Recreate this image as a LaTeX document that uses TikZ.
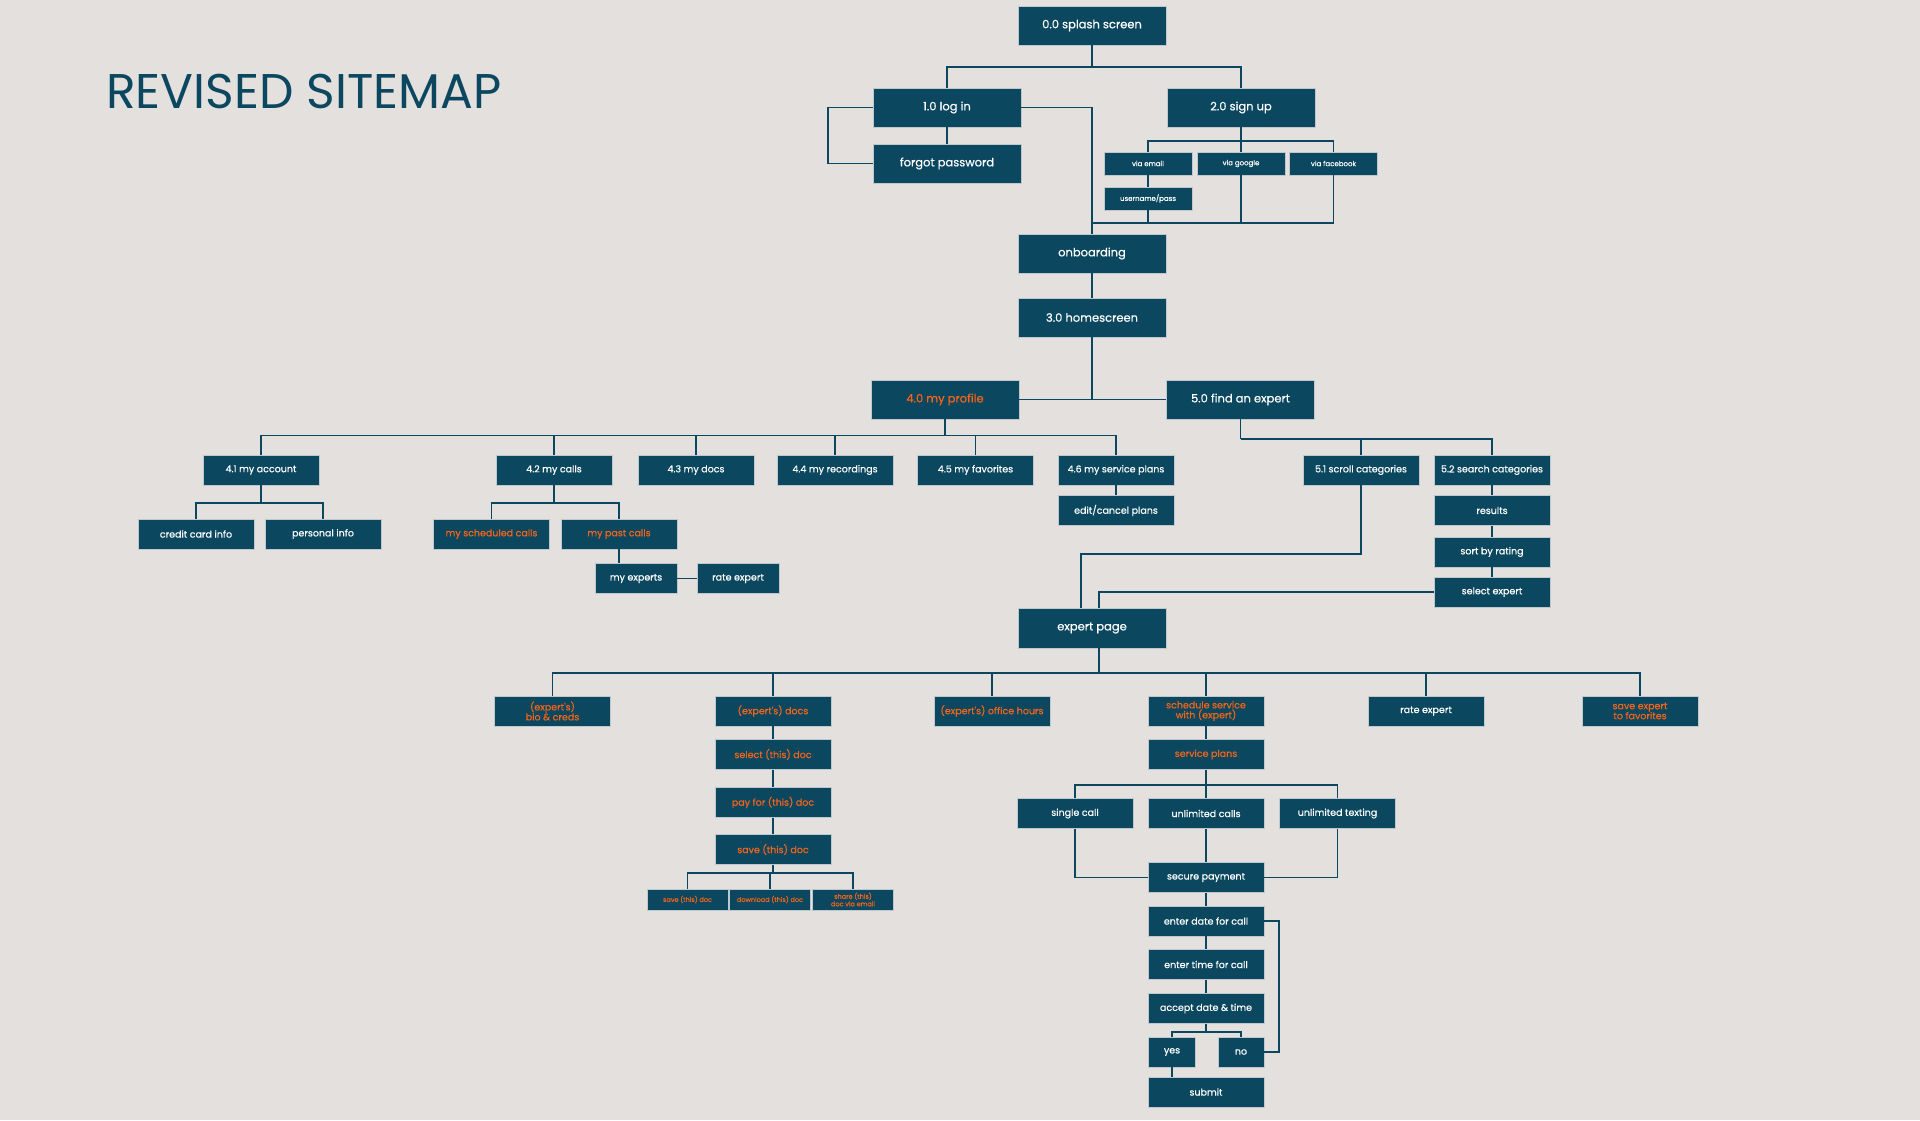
\documentclass[tikz,border=0pt]{standalone}
\usepackage{fontspec}
\setmainfont{Poppins}
\newfontface\boxfont{Poppins}[FakeBold=0.45]
\definecolor{boxteal}{RGB}{11,72,96}
\definecolor{paper}{RGB}{228,224,221}
\definecolor{accent}{RGB}{245,100,25}
\definecolor{rim}{RGB}{190,200,205}

\begin{document}
\begin{tikzpicture}[x=1pt,y=1pt]
\tikzstyle{every node}+=[inner sep=0pt]
\tikzstyle{pagebox}=[draw=rim, fill=boxteal, line width=0.5pt, text=white, align=center]
\tikzstyle{bigbox}=[pagebox, minimum width=148pt, minimum height=39pt, font=\boxfont\fontsize{11.5}{12}\selectfont]
\tikzstyle{midbox}=[pagebox, minimum width=116pt, minimum height=30pt, font=\boxfont\fontsize{9.5}{10}\selectfont]
\tikzstyle{tinybox}=[pagebox, minimum width=88pt, minimum height=23pt, font=\boxfont\fontsize{7}{7.5}\selectfont]
\tikzstyle{docbox}=[pagebox, minimum width=81pt, minimum height=21pt, font=\boxfont\fontsize{6.5}{7.5}\selectfont]
\tikzstyle{hot}=[text=accent]
\tikzstyle{conn}=[draw=boxteal, line width=1.9pt]
\fill [paper] (0,0) rectangle (1920,-1120);
\node [anchor=base west, text=boxteal, font=\fontsize{48.7}{52}\selectfont] (title) at (106,-108) {REVISED SITEMAP};
% top
\node [bigbox] (splash) at (1092,-25.5) {0.0 splash screen};
\node [bigbox] (login) at (947,-107.5) {1.0 log in};
\node [bigbox] (signup) at (1241,-107.5) {2.0 sign up};
\node [bigbox] (forgot) at (947,-163.5) {forgot password};
\node [tinybox] (vemail) at (1148,-163.5) {via email};
\node [tinybox] (vgoogle) at (1241,-163.5) {via google};
\node [tinybox] (vfb) at (1333.5,-163.5) {via facebook};
\node [tinybox] (userpass) at (1148,-198.5) {username/pass};
\node [bigbox] (onboard) at (1092,-253.5) {onboarding};
\node [bigbox] (home) at (1092,-317.5) {3.0 homescreen};
\node [bigbox, hot] (profile) at (945,-399.5) {4.0 my profile};
\node [bigbox] (find) at (1240.5,-399.5) {5.0 find an expert};
% my profile
\node [midbox] (acct) at (261,-470) {4.1 my account};
\node [midbox] (calls) at (554,-470) {4.2 my calls};
\node [midbox] (docs) at (696,-470) {4.3 my docs};
\node [midbox] (recs) at (835,-470) {4.4 my recordings};
\node [midbox] (favs) at (975.5,-470) {4.5 my favorites};
\node [midbox] (svc) at (1116,-470) {4.6 my service plans};
\node [midbox] (editplans) at (1116,-510.5) {edit/cancel plans};
\node [midbox] (credit) at (196,-534) {credit card info};
\node [midbox] (personal) at (323,-534) {personal info};
\node [midbox, hot] (sched) at (491.5,-534) {my scheduled calls};
\node [midbox, hot] (past) at (619,-534) {my past calls};
\node [midbox, minimum width=82pt] (myexp) at (636,-578.5) {my experts};
\node [midbox, minimum width=82pt] (rateone) at (738,-578.5) {rate expert};
% find an expert
\node [midbox] (scroll) at (1361,-470) {5.1 scroll categories};
\node [midbox] (search) at (1492,-470) {5.2 search categories};
\node [midbox] (results) at (1492,-510.5) {results};
\node [midbox] (sort) at (1492,-552) {sort by rating};
\node [midbox] (select) at (1492,-592) {select expert};
\node [bigbox, minimum height=40pt] (expert) at (1092,-628) {expert page};
% expert page
\node [midbox, hot] (bio) at (552.5,-711) {(expert's)\\bio \& creds};
\node [midbox, hot] (edocs) at (773,-711) {(expert's) docs};
\node [midbox, hot] (office) at (992,-711) {(expert's) office hours};
\node [midbox, hot] (book) at (1206,-711) {schedule service\\with (expert)};
\node [midbox] (ratetwo) at (1426,-711) {rate expert};
\node [midbox, hot] (savefav) at (1640,-711) {save expert\\to favorites};
\node [midbox, hot] (seldoc) at (773,-754.5) {select (this) doc};
\node [midbox, hot] (paydoc) at (773,-802.5) {pay for (this) doc};
\node [midbox, hot] (savedoc) at (773,-849.5) {save (this) doc};
\node [docbox, hot] (svdoc) at (687.5,-899.5) {save (this) doc};
\node [docbox, hot] (dldoc) at (770,-899.5) {download (this) doc};
\node [docbox, hot] (shdoc) at (853,-899.5) {share (this)\\doc via email};
\node [midbox, hot] (plans) at (1206,-754.5) {service plans};
\node [midbox] (single) at (1075,-813.5) {single call};
\node [midbox] (unlim) at (1206,-813.5) {unlimited calls};
\node [midbox] (texting) at (1337.5,-813.5) {unlimited texting};
\node [midbox] (secure) at (1206,-877.5) {secure payment};
\node [midbox] (date) at (1206,-921) {enter date for call};
\node [midbox] (time) at (1206,-964.5) {enter time for call};
\node [midbox] (accept) at (1206,-1008.5) {accept date \& time};
\node [midbox, minimum width=47pt] (yes) at (1172,-1052) {yes};
\node [midbox, minimum width=46pt] (no) at (1241,-1052) {no};
\node [midbox] (submit) at (1206,-1092) {submit};
% bus points
\coordinate (b0) at (1092,-67);
\coordinate (b2) at (1241,-141);
\coordinate (b3) at (1092,-223);
\coordinate (b4) at (945,-435.5);
\coordinate (ba) at (261,-503);
\coordinate (bc) at (554,-503);
\coordinate (b5) at (1240.5,-439);
\coordinate (b6) at (1099,-673);
\coordinate (bd) at (773,-873);
\coordinate (bp) at (1206,-785);
\coordinate (by) at (1206,-1032);
% connectors
\draw [conn] (splash) -- (b0);
\draw [conn] (login.north) |- (b0) -| (signup.north);
\draw [conn] (login) -- (forgot);
\draw [conn] (login.west) -- ++(-45,0) |- (forgot.west);
\draw [conn] (login.east) -| (onboard.north);
\draw [conn] (signup) -- (vgoogle);
\draw [conn] (vemail.north) |- (b2) -| (vfb.north);
\draw [conn] (vemail) -- (userpass);
\draw [conn] (userpass.south) |- (b3);
\draw [conn] (vfb.south) |- (b3);
\draw [conn] (vgoogle.south) -- (vgoogle.south |- b3);
\draw [conn] (onboard) -- (home);
\draw [conn] (home.south) |- (profile.east);
\draw [conn] (home.south) |- (find.west);
\draw [conn] (profile) -- (b4);
\foreach \n in {acct,calls,docs,recs,favs,svc}
  \draw [conn] (\n.north) |- (b4);
\draw [conn] (svc) -- (editplans);
\draw [conn] (acct) -- (ba);
\draw [conn] (credit.north) |- (ba) -| (personal.north);
\draw [conn] (calls) -- (bc);
\draw [conn] (sched.north) |- (bc) -| (past.north);
\draw [conn] (past.south) -- (past.south |- myexp.north);
\draw [conn] (myexp) -- (rateone);
\draw [conn] (find) -- (b5);
\draw [conn] (scroll.north) |- (b5);
\draw [conn] (search.north) |- (b5);
\draw [conn] (search) -- (results);
\draw [conn] (results) -- (sort);
\draw [conn] (sort) -- (select);
\draw [conn] (scroll.south) -- ++(0,-69) -| ([xshift=-11pt]expert.north);
\draw [conn] (select.west) -| ([xshift=7pt]expert.north);
\draw [conn] ([xshift=7pt]expert.south) -- (b6);
\foreach \n in {bio,edocs,office,book,ratetwo,savefav}
  \draw [conn] (\n.north) |- (b6);
\draw [conn] (edocs) -- (seldoc);
\draw [conn] (seldoc) -- (paydoc);
\draw [conn] (paydoc) -- (savedoc);
\draw [conn] (savedoc) -- (bd);
\draw [conn] (svdoc.north) |- (bd) -| (shdoc.north);
\draw [conn] (dldoc.north) -- (dldoc.north |- bd);
\draw [conn] (book) -- (plans);
\draw [conn] (plans) -- (unlim);
\draw [conn] (single.north) |- (bp) -| (texting.north);
\draw [conn] (unlim) -- (secure);
\draw [conn] (single.south) |- (secure.west);
\draw [conn] (texting.south) |- (secure.east);
\draw [conn] (secure) -- (date);
\draw [conn] (date) -- (time);
\draw [conn] (time) -- (accept);
\draw [conn] (accept) -- (by);
\draw [conn] (yes.north) |- (by) -| (no.north);
\draw [conn] (yes.south) -- (yes.south |- submit.north);
\draw [conn] (no.east) -- ++(15,0) |- (date.east);
\end{tikzpicture}
\end{document}
